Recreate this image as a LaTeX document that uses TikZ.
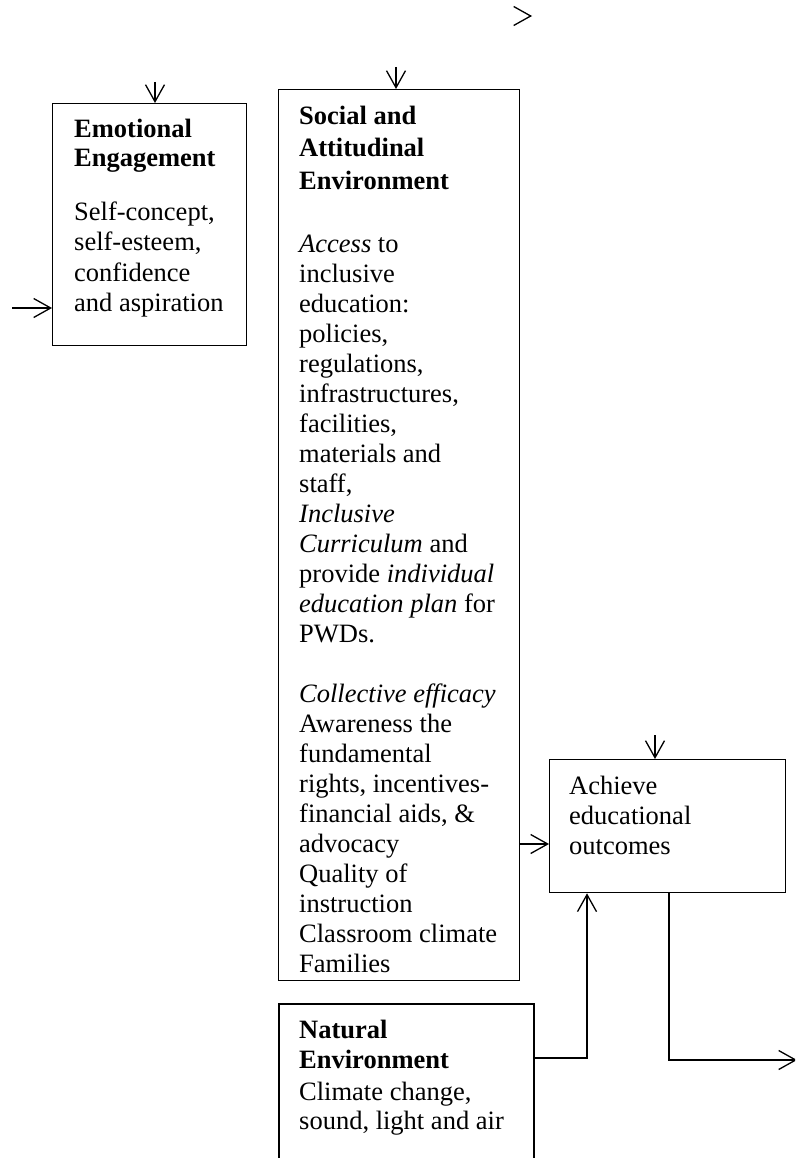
\documentclass[tikz,border=0pt]{standalone}
\usepackage{fontspec}
\setmainfont{Liberation Serif}
\usetikzlibrary{arrows.meta}
\begin{document}
\begin{tikzpicture}[x=1pt,y=-1pt,
  box/.style={draw, line width=1.3pt, inner sep=0pt, anchor=north west},
  txt/.style={anchor=base west, inner sep=0pt, font=\fontsize{26.5}{30}\selectfont},
  hd/.style={anchor=base west, inner sep=0pt, font=\fontsize{26.5}{30}\selectfont\bfseries},
  arr/.style={line width=1.3pt, -{Straight Barb[length=17pt,width=19pt,line width=1.3pt]}}
]
\useasboundingbox (0,0) rectangle (795,1158);
\clip (0,0) rectangle (795,1158);

% boxes
\node[box, minimum width=194pt, minimum height=242pt] (emo) at (52,103) {};
\node[box, minimum width=241pt, minimum height=891pt] (soc) at (278,89) {};
\node[box, minimum width=236pt, minimum height=133pt] (ach) at (549,759) {};
\node[box, line width=2pt, minimum width=255pt, minimum height=220pt] (nat) at (278,1003) {};

% Emotional Engagement
\node[hd] (emoH1) at (74,138) {Emotional};
\node[hd] (emoH2) at (74,167) {Engagement};
\foreach \t [count=\i from 0] in {{Self-concept,},{self-esteem,},{confidence},{and aspiration}}
  \node[txt] (emoB\i) at (74,{221+30*\i}) {\t};

% Social and Attitudinal Environment
\node[hd] (socH1) at (299,125) {Social and};
\node[hd] (socH2) at (299,157) {Attitudinal};
\node[hd] (socH3) at (299,190) {Environment};
\foreach \t [count=\i from 0] in {{\textit{Access} to},{inclusive},{education:},{policies,},{regulations,},{infrastructures,},{facilities,},{materials and},{staff,},{\textit{Inclusive}},{\textit{Curriculum} and},{provide \textit{individual}},{\textit{education plan} for},{PWDs.}}
  \node[txt] (socA\i) at (299,{252+30*\i}) {\t};
\foreach \t [count=\i from 0] in {{\textit{Collective efficacy}},{Awareness the},{fundamental},{rights, incentives-},{financial aids, \&},{advocacy},{Quality of},{instruction},{Classroom climate},{Families}}
  \node[txt] (socB\i) at (299,{702+30*\i}) {\t};

% Achieve educational outcomes
\foreach \t [count=\i from 0] in {{Achieve},{educational},{outcomes}}
  \node[txt] (achT\i) at (569,{794+30*\i}) {\t};

% Natural Environment
\node[hd] (natH1) at (299,1038) {Natural};
\node[hd] (natH2) at (299,1068) {Environment};
\node[txt] (natB1) at (299,1100) {Climate change,};
\node[txt] (natB2) at (299,1129) {sound, light and air};

% connectors
\coordinate (emoIn) at (155,82);
\draw[arr] (emoIn) -- (emoIn |- emo.north);
\coordinate (socIn) at (396,67);
\draw[arr] (socIn) -- (socIn |- soc.north);
\coordinate (emoLeft) at (12,308);
\draw[arr] (emoLeft) -- (emoLeft -| emo.west);
\coordinate (sa) at (530,844);
\draw[arr] (sa -| soc.east) -- (sa -| ach.west);
\coordinate (achIn) at (655,735);
\draw[arr] (achIn) -- (achIn |- ach.north);
\coordinate (nk) at (587,1058);
\draw[arr] (nk -| nat.east) -- (nk) -- (nk |- ach.south);
\coordinate (ok) at (669,1060);
\coordinate (out) at (797,1060);
\draw[arr] (ok |- ach.south) -- (ok) -- (out);
\coordinate (lt1) at (531,16);
\coordinate (lt2) at (532,16);
\draw[arr] (lt1) -- (lt2);
\end{tikzpicture}
\end{document}
